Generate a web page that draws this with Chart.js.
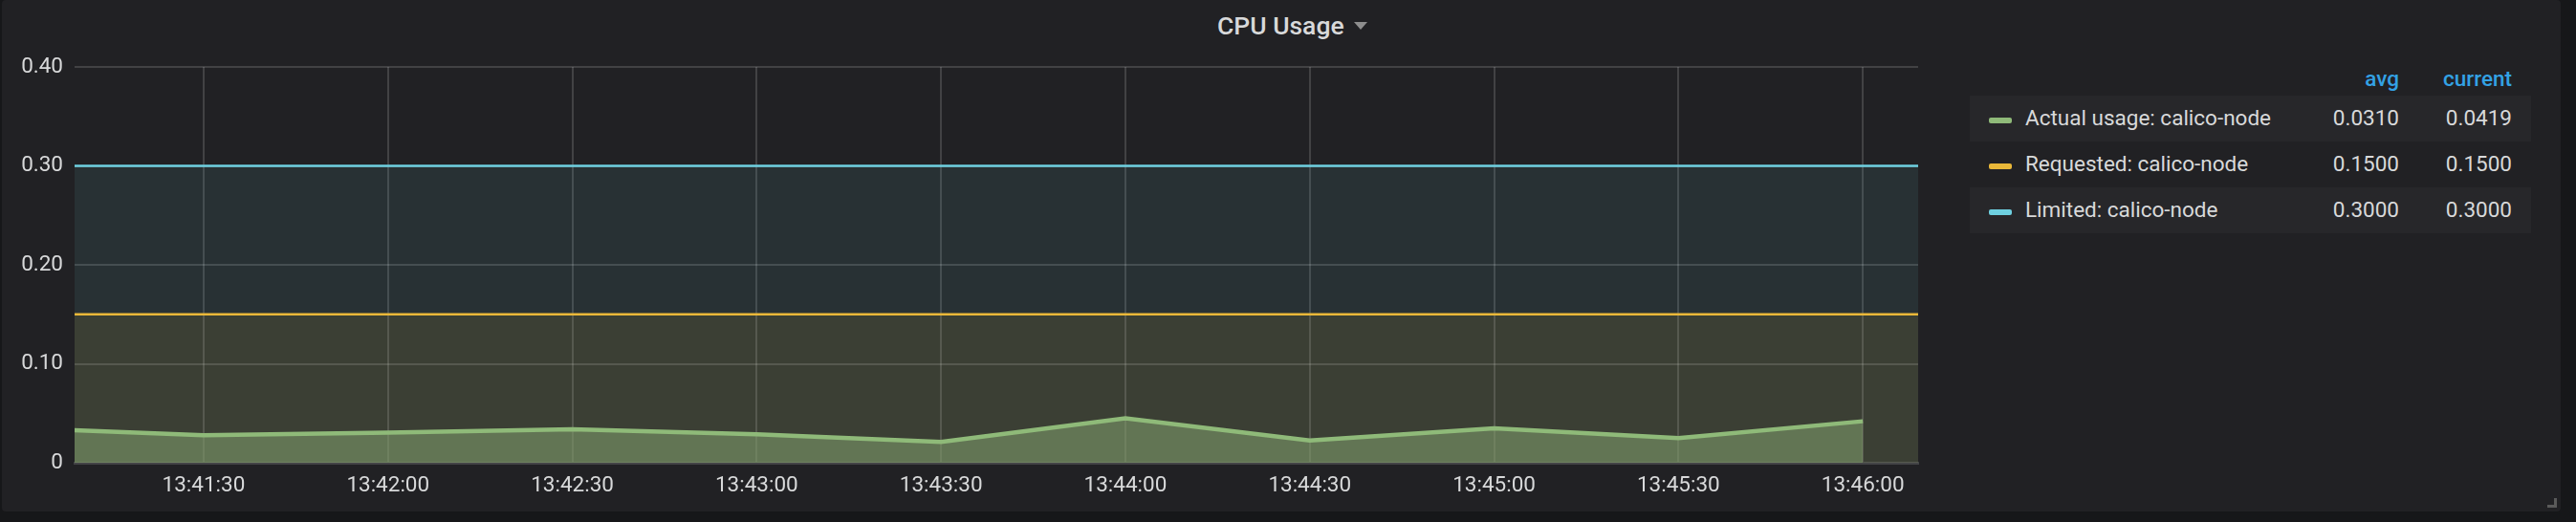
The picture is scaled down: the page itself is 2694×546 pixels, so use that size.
<!DOCTYPE html>
<html lang="en">
<head>
  <meta charset="UTF-8" />
  <title>CPU Usage</title>
  <script src="https://cdn.jsdelivr.net/npm/chart.js"></script>
  <style>
    body {
      margin: 0;
      width: 2694px;
      height: 546px;
      background: #161719;
      font-family: Roboto, sans-serif;
      overflow: hidden;
    }
    #panel {
      position: absolute;
      left: 2px;
      top: 0;
      width: 2676px;
      height: 535px;
      background: #212124;
      border-radius: 4px;
    }
    #title {
      position: absolute;
      left: 1273px;
      top: 9px;
      color: #d8d9da;
      font-size: 26.5px;
      font-weight: 500;
      line-height: 36px;
      white-space: nowrap;
    }
    #title .caret {
      display: inline-block;
      margin-left: 10px;
      width: 0;
      height: 0;
      border-left: 7px solid transparent;
      border-right: 7px solid transparent;
      border-top: 8px solid #8e8e8e;
      vertical-align: middle;
      position: relative;
      top: -2px;
    }
    #chartBox {
      position: absolute;
      left: 0;
      top: 0;
      width: 2040px;
      height: 546px;
    }
    #legend {
      position: absolute;
      left: 0;
      top: 0;
      font-size: 22.5px;
      color: #d8d9da;
    }
    .lg-head {
      position: absolute;
      top: 68px;
      color: #33a2e5;
      font-weight: 500;
      text-align: right;
      line-height: 28px;
    }
    .lg-row {
      position: absolute;
      left: 2060px;
      width: 587px;
      height: 48px;
    }
    .lg-row.odd { background: #27272a; }
    .lg-sw {
      position: absolute;
      left: 20px;
      top: 23px;
      width: 24px;
      height: 6px;
      border-radius: 2px;
    }
    .lg-name {
      position: absolute;
      left: 58px;
      top: 9px;
      line-height: 28px;
      white-space: nowrap;
    }
    .lg-val {
      position: absolute;
      top: 9px;
      line-height: 28px;
      text-align: right;
      width: 120px;
    }
    #handle {
      position: absolute;
      left: 2664px;
      top: 521px;
      width: 7px;
      height: 7px;
      border-right: 3px solid #5a5a5a;
      border-bottom: 3px solid #5a5a5a;
    }
  </style>
</head>
<body>
  <div id="panel"></div>
  <div id="title">CPU Usage<span class="caret"></span></div>
  <div id="chartBox"><canvas id="cpuChart"></canvas></div>
  <div id="legend"></div>
  <div id="handle"></div>

  <script>
    // time axis
    const xTickLabels = ['13:41:30', '13:42:00', '13:42:30', '13:43:00', '13:43:30',
                         '13:44:00', '13:44:30', '13:45:00', '13:45:30', '13:46:00'];
    const xMin = '13:41:09';
    const xMax = '13:46:09';
    const yTicks = [0, 0.1, 0.2, 0.3, 0.4];

    // series
    const actualTimes = ['13:41:00', '13:41:30', '13:42:00', '13:42:30', '13:43:00', '13:43:30',
                         '13:44:00', '13:44:30', '13:45:00', '13:45:30', '13:46:00'];
    const actualValues = [0.035, 0.0277, 0.0304, 0.0337, 0.0287, 0.0210,
                          0.0448, 0.0225, 0.0348, 0.0250, 0.0419];
    const limitTimes = ['13:41:00', '13:41:30', '13:42:00', '13:42:30', '13:43:00', '13:43:30',
                        '13:44:00', '13:44:30', '13:45:00', '13:45:30', '13:46:00', '13:46:30'];
    const requestedValues = [0.15, 0.15, 0.15, 0.15, 0.15, 0.15, 0.15, 0.15, 0.15, 0.15, 0.15, 0.15];
    const limitedValues = [0.30, 0.30, 0.30, 0.30, 0.30, 0.30, 0.30, 0.30, 0.30, 0.30, 0.30, 0.30];

    // legend table
    const legendNames = ['Actual usage: calico-node', 'Requested: calico-node', 'Limited: calico-node'];
    const legendAvg = ['0.0310', '0.1500', '0.3000'];
    const legendCurrent = ['0.0419', '0.1500', '0.3000'];
    const seriesColors = ['#8fba79', '#eab839', '#6ed0e0'];

    function toSec(t) {
      const p = t.split(':').map(Number);
      return p[0] * 3600 + p[1] * 60 + p[2];
    }
    function fmtSec(s) {
      const h = Math.floor(s / 3600), m = Math.floor((s % 3600) / 60), sec = s % 60;
      return [h, m, sec].map(v => String(v).padStart(2, '0')).join(':');
    }
    const pts = (times, vals) => times.map((t, i) => ({ x: toSec(t), y: vals[i] }));

    // legend
    const lg = document.getElementById('legend');
    lg.innerHTML =
      '<div class="lg-head" style="left:2389px;width:120px">avg</div>' +
      '<div class="lg-head" style="left:2507px;width:120px">current</div>';
    legendNames.forEach((name, i) => {
      const row = document.createElement('div');
      row.className = 'lg-row' + (i % 2 === 0 ? ' odd' : '');
      row.style.top = (100 + i * 48) + 'px';
      row.innerHTML =
        `<div class="lg-sw" style="background:${seriesColors[i]}"></div>` +
        `<div class="lg-name">${name}</div>` +
        `<div class="lg-val" style="left:329px">${legendAvg[i]}</div>` +
        `<div class="lg-val" style="left:447px">${legendCurrent[i]}</div>`;
      lg.appendChild(row);
    });

    const gridColor = 'rgba(255,255,255,0.15)';
    const tickFont = { family: 'Roboto', size: 22.5 };

    new Chart(document.getElementById('cpuChart'), {
      type: 'line',
      data: {
        datasets: [
          {
            label: legendNames[0],
            data: pts(actualTimes, actualValues),
            borderColor: seriesColors[0],
            backgroundColor: 'rgba(126,155,106,0.6)',
            borderWidth: 4.5,
            fill: 'origin',
            pointRadius: 0,
            tension: 0,
            order: 1
          },
          {
            label: legendNames[1],
            data: pts(limitTimes, requestedValues),
            borderColor: seriesColors[1],
            backgroundColor: 'rgba(234,184,57,0.1)',
            borderWidth: 2.5,
            fill: 'origin',
            pointRadius: 0,
            tension: 0,
            order: 2
          },
          {
            label: legendNames[2],
            data: pts(limitTimes, limitedValues),
            borderColor: seriesColors[2],
            backgroundColor: 'rgba(110,208,224,0.09)',
            borderWidth: 2.5,
            fill: 'origin',
            pointRadius: 0,
            tension: 0,
            order: 3
          }
        ]
      },
      options: {
        responsive: true,
        maintainAspectRatio: false,
        animation: false,
        layout: { padding: { top: 70, right: 34, left: 0, bottom: 0 } },
        plugins: {
          legend: { display: false },
          tooltip: { enabled: false }
        },
        scales: {
          x: {
            type: 'linear',
            min: toSec(xMin),
            max: toSec(xMax),
            z: 1,
            afterFit: s => { s.height = 62; },
            afterBuildTicks: s => { s.ticks = xTickLabels.map(t => ({ value: toSec(t) })); },
            grid: { color: gridColor, lineWidth: 2, drawTicks: false },
            border: { display: true, color: '#434446', width: 3 },
            ticks: {
              color: '#d8d9da',
              font: tickFont,
              padding: 11,
              maxRotation: 0,
              autoSkip: false,
              callback: v => fmtSec(v)
            }
          },
          y: {
            min: 0,
            max: 0.4,
            z: 1,
            afterFit: s => { s.width = 78; },
            afterBuildTicks: s => { s.ticks = yTicks.map(v => ({ value: v })); },
            grid: { color: gridColor, lineWidth: 2, drawTicks: false },
            border: { display: false },
            ticks: {
              color: '#d8d9da',
              font: tickFont,
              padding: 12,
              callback: v => v === 0 ? '0' : v.toFixed(2)
            }
          }
        }
      }
    });
  </script>
</body>
</html>
